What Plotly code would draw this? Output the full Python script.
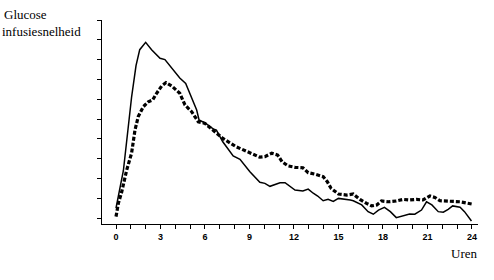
import plotly.graph_objects as go

# Solid curve (hours, value)
solid_h = [0, 0.5, 1.05, 1.35, 1.6, 2.0, 2.4, 2.97, 3.3, 3.75, 4.3, 4.7, 5.1, 5.44, 5.6, 6.0,
           6.55, 6.77, 7.2, 7.9, 8.36, 9.03, 9.7, 10.04, 10.38, 11.06, 11.4, 12.07, 12.6, 12.96,
           13.3, 13.6, 13.97, 14.3, 14.65, 15.0, 15.8, 16.0, 16.57, 17.0, 17.35, 17.7, 18.1,
           18.5, 18.9, 19.37, 19.8, 20.15, 20.6, 20.94, 21.3, 21.73, 22.07, 22.4, 22.7, 23.2,
           23.5, 23.97]
solid_v = [0.5, 2.4, 6.1, 7.7, 8.5, 8.87, 8.5, 8.07, 8.0, 7.56, 7.07, 6.8, 6.06, 5.45, 4.95, 4.8,
           4.5, 4.44, 3.85, 3.13, 2.96, 2.34, 1.8, 1.75, 1.6, 1.78, 1.78, 1.41, 1.36, 1.46,
           1.25, 1.11, 0.87, 0.94, 0.84, 0.99, 0.91, 0.87, 0.66, 0.32, 0.19, 0.4, 0.54,
           0.32, 0.02, 0.12, 0.2, 0.19, 0.4, 0.82, 0.66, 0.32, 0.29, 0.44, 0.61, 0.54,
           0.32, -0.15]

# Dashed curve (hours, value)
dash_h = [0, 0.16, 0.38, 0.72, 1.05, 1.28, 1.5, 1.84, 2.18, 2.47, 2.74, 3.08, 3.37, 3.75, 4.3,
          4.65, 5.1, 5.55, 6.0, 6.56, 7.2, 8.1, 9.03, 9.7, 10.04, 10.5, 10.9, 11.2, 11.6, 12.07,
          12.6, 12.96, 13.4, 13.97, 14.25, 14.5, 15.0, 15.55, 16.0, 16.45, 16.9, 17.24, 17.58,
          17.9, 18.36, 18.9, 19.37, 19.8, 20.26, 20.7, 21.17, 21.5, 21.85, 22.5, 23.2, 24.1]
dash_v = [0.07, 0.74, 1.3, 2.42, 3.27, 4.44, 5.12, 5.62, 5.87, 5.96, 6.3, 6.67, 6.84, 6.67, 6.3,
          5.71, 5.37, 4.86, 4.78, 4.44, 4.02, 3.6, 3.27, 3.07, 3.1, 3.27, 3.18, 2.84, 2.63, 2.56,
          2.54, 2.29, 2.22, 2.09, 1.83, 1.5, 1.21, 1.16, 1.21, 0.94, 0.74, 0.61, 0.66,
          0.86, 0.82, 0.86, 0.94, 0.91, 0.94, 0.91, 1.11, 1.04, 0.87, 0.86, 0.82, 0.69]

x_tickvals = list(range(0, 25))
x_ticktext = [str(h) if h % 3 == 0 else "" for h in x_tickvals]
y_tickvals = list(range(0, 11))

SERIF = "Times New Roman"

fig = go.Figure()
fig.add_trace(go.Scatter(x=solid_h, y=solid_v, mode="lines",
                         line=dict(color="black", width=1.5), showlegend=False))
fig.add_trace(go.Scatter(x=dash_h, y=dash_v, mode="lines",
                         line=dict(color="black", width=3.2, dash="4px,2px"), showlegend=False))

L, R, T, B = 102, 16, 20, 56
W, H = 494, 280
pw, ph = W - L - R, H - T - B

def px(xp):
    return (xp - L) / pw

def py(yp):
    return (H - B - yp) / ph

fig.update_layout(
    width=W, height=H,
    margin=dict(l=L, r=R, t=T, b=B),
    paper_bgcolor="white", plot_bgcolor="white",
    font=dict(family=SERIF),
    xaxis=dict(range=[-0.944, 24.41], tickvals=x_tickvals, ticktext=x_ticktext,
               showline=True, linecolor="black", linewidth=1, ticks="outside",
               ticklen=4, tickcolor="black", showgrid=False, zeroline=False,
               tickfont=dict(family="Liberation Sans", size=9, color="black", weight="bold")),
    yaxis=dict(range=[-0.303, 10.0], tickvals=y_tickvals, showticklabels=False,
               showline=True, linecolor="black", linewidth=1, ticks="outside",
               ticklen=4, tickcolor="black", showgrid=False, zeroline=False),
    annotations=[
        dict(text="Glucose", xref="paper", yref="paper", x=px(2), y=py(14),
             xanchor="left", yanchor="middle", showarrow=False,
             font=dict(family=SERIF, size=13, color="black")),
        dict(text="infusiesnelheid", xref="paper", yref="paper", x=px(0), y=py(31),
             xanchor="left", yanchor="middle", showarrow=False,
             font=dict(family=SERIF, size=13, color="black")),
        dict(text="Uren", xref="paper", yref="paper", x=px(479), y=py(253),
             xanchor="right", yanchor="middle", showarrow=False,
             font=dict(family=SERIF, size=13, color="black")),
    ],
)

fig.write_html("out.html")
